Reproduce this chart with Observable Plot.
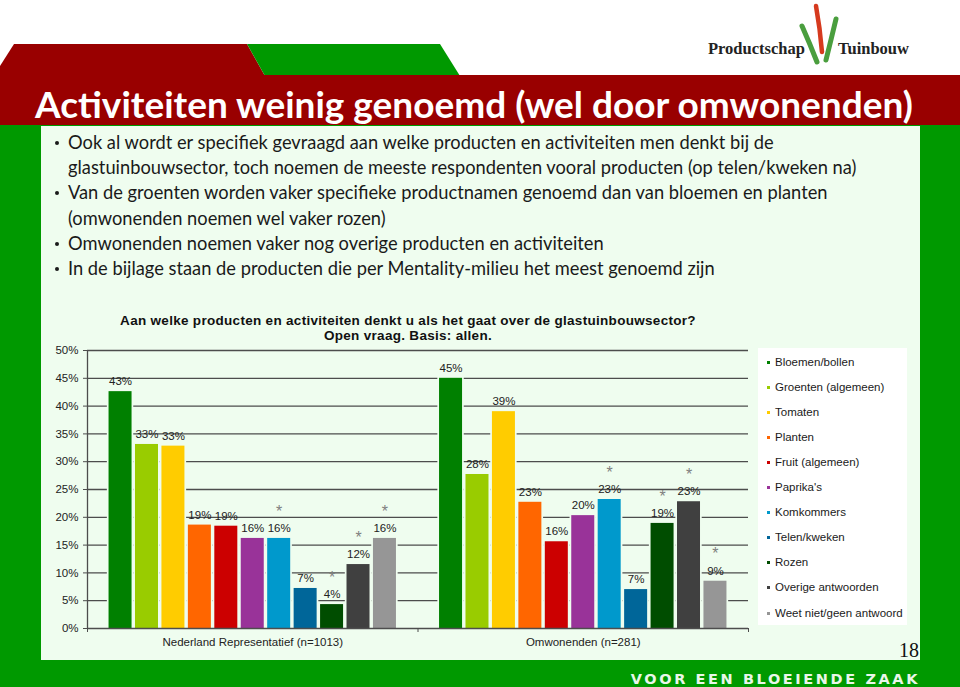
<!DOCTYPE html>
<html><head><meta charset="utf-8">
<script src="https://cdn.jsdelivr.net/npm/d3@7"></script>
<script src="https://cdn.jsdelivr.net/npm/@observablehq/plot@0.6"></script>
<style>
html,body{margin:0;padding:0;}
body{width:960px;height:687px;overflow:hidden;background:#fff;position:relative;font-family:"Liberation Sans",Arial,sans-serif;}
.abs{position:absolute;}
#bullets{left:52px;top:130px;width:815px;font-family:Lato,"Open Sans",sans-serif;font-size:18.3px;line-height:25.2px;color:#1a1a1a;}
#bullets div{position:relative;padding-left:16px;}
#bullets div:before{content:"";position:absolute;left:3px;top:11px;width:4px;height:4px;border-radius:2px;background:#1a1a1a;}
#ctitle{left:60px;top:314px;width:696px;text-align:center;font-weight:bold;font-size:13.5px;letter-spacing:0.3px;line-height:14.5px;color:#111;}
#legend{left:758px;top:348px;width:149px;height:277px;background:#fff;}
.li{position:absolute;left:17px;font-size:11.5px;color:#1a1a1a;white-space:nowrap;line-height:13px;}
.sw{position:absolute;left:9px;width:3px;height:3px;}
#title{left:35px;top:82px;color:#fff;font-family:Lato,"Open Sans",sans-serif;font-weight:bold;font-size:37px;white-space:nowrap;line-height:44px;}
#slogan{right:40px;top:671px;color:#e9f7e9;font-family:"DejaVu Sans",sans-serif;font-weight:bold;font-size:14.5px;letter-spacing:2.6px;line-height:16px;}
#pnum{left:899px;top:639px;font-family:"Liberation Serif",serif;font-size:20px;color:#111;line-height:22px;}
</style></head><body>
<svg class="abs" style="left:0;top:0" width="960" height="687">
  <rect x="0" y="0" width="960" height="687" fill="#ffffff"/>
  <polygon points="14,44 247,44 265,76 0,76 0,66" fill="#990000"/>
  <polygon points="247,44 440,44 460,76 265,76" fill="#009900"/>
  <rect x="0" y="75" width="960" height="51" fill="#990000"/>
  <rect x="0" y="125" width="960" height="562" fill="#009900"/>
  <rect x="41" y="126" width="879" height="534" fill="#effdef"/>
  <text x="708" y="54" font-family="Liberation Serif, serif" font-weight="bold" font-size="16.5" fill="#222">Productschap</text>
  <text x="838" y="54" font-family="Liberation Serif, serif" font-weight="bold" font-size="16.5" fill="#222">Tuinbouw</text>
  <path d="M802,26 Q810,44 817,62" stroke="#4a9e3e" stroke-width="5" fill="none" stroke-linecap="round"/>
  <path d="M816,6 Q820,28 822,52" stroke="#d63a1e" stroke-width="4.5" fill="none" stroke-linecap="round"/>
  <path d="M836,19 Q831,40 826,60" stroke="#4a9e3e" stroke-width="5" fill="none" stroke-linecap="round"/>
</svg>
<div id="title" class="abs">Activiteiten weinig genoemd (wel door omwonenden)</div>
<div id="bullets" class="abs">
  <div>Ook al wordt er specifiek gevraagd aan welke producten en activiteiten men denkt bij de glastuinbouwsector, toch noemen de meeste respondenten vooral producten (op telen/kweken na)</div>
  <div>Van de groenten worden vaker specifieke productnamen genoemd dan van bloemen en planten (omwonenden noemen wel vaker rozen)</div>
  <div>Omwonenden noemen vaker nog overige producten en activiteiten</div>
  <div>In de bijlage staan de producten die per Mentality-milieu het meest genoemd zijn</div>
</div>
<div id="ctitle" class="abs">Aan welke producten en activiteiten denkt u als het gaat over de glastuinbouwsector?<br>Open vraag. Basis: allen.</div>
<div id="chart" class="abs" style="left:40px;top:340px;"></div>
<div id="legend" class="abs"></div>
<div id="pnum" class="abs">18</div>
<div id="slogan" class="abs">VOOR EEN BLOEIENDE ZAAK</div>
<script>
const groups = ["Nederland Representatief (n=1013)", "Omwonenden (n=281)"];
const categories = ["Bloemen/bollen", "Groenten (algemeen)", "Tomaten", "Planten", "Fruit (algemeen)", "Paprika's", "Komkommers", "Telen/kweken", "Rozen", "Overige antwoorden", "Weet niet/geen antwoord"];
const colors = ["#008000", "#99cc00", "#ffcc00", "#ff6600", "#cc0000", "#993399", "#0099cc", "#006699", "#004d00", "#404040", "#969696"];
const valuesNL = [42.6, 33.1, 32.8, 18.6, 18.4, 16.2, 16.2, 7.2, 4.3, 11.5, 16.2];
const valuesOmw = [45.0, 27.7, 39.0, 22.7, 15.6, 20.3, 23.2, 7.0, 18.9, 22.8, 8.5];
const labelsNL = ["43%", "33%", "33%", "19%", "19%", "16%", "16%", "7%", "4%", "12%", "16%"];
const labelsOmw = ["45%", "28%", "39%", "23%", "16%", "20%", "23%", "7%", "19%", "23%", "9%"];
const starred = ["Komkommers", "Rozen", "Overige antwoorden", "Weet niet/geen antwoord"];
const yTicks = [0, 5, 10, 15, 20, 25, 30, 35, 40, 45, 50];

const bg = "#effdef";
const inner = d3.scaleBand().domain(categories).range([0, 1]).paddingInner(0.13).paddingOuter(0.815);
const series = [valuesNL, valuesOmw];
const labelSets = [labelsNL, labelsOmw];
const table = [];
groups.forEach((g, gi) => {
  categories.forEach((c, ci) => {
    const x1 = gi + inner(c);
    const x2 = x1 + inner.bandwidth();
    table.push({group: g, category: c, value: series[gi][ci], label: labelSets[gi][ci], x1, x2, xm: (x1 + x2) / 2, star: starred.includes(c)});
  });
});
const axisColor = "#4d4d4d";
const plot = Plot.plot({
  width: 720, height: 320,
  marginLeft: 47, marginRight: 12, marginTop: 10, marginBottom: 32,
  x: {domain: [0, groups.length]},
  y: {domain: [0, 50]},
  color: {domain: categories, range: colors},
  style: {fontFamily: "Liberation Sans, Arial, sans-serif", fontSize: "11.5px", color: "#222", background: "transparent", overflow: "visible"},
  marks: [
    Plot.ruleY(yTicks.filter(d => d > 0), {stroke: axisColor, strokeWidth: 1.3}),
    Plot.rect(table, {x1: "x1", x2: "x2", y1: () => 0, y2: "value", fill: "category", stroke: bg, strokeWidth: 3.4, paintOrder: "stroke"}),
    Plot.ruleX([0], {stroke: axisColor, strokeWidth: 1.3}),
    Plot.ruleY([0], {stroke: axisColor, strokeWidth: 1.6}),
    Plot.axisY({ticks: yTicks, tickFormat: d => d + "%", tickSize: 4, tickPadding: 5, label: null, stroke: axisColor, fill: "#222", fontSize: 11.5}),
    Plot.axisX({ticks: d3.range(groups.length + 1), tickSize: 4, tickFormat: () => "", label: null, stroke: axisColor}),
    Plot.text(table, {x: "xm", y: "value", text: "label", dy: -10, fill: "#222", fontSize: 11.5}),
    Plot.text(table.filter(d => d.star), {x: "xm", y: "value", text: () => "*", dy: -27, fontSize: 16, fill: "#808080"}),
    Plot.text(groups, {x: (d, i) => i + 0.5, y: () => 0, text: d => d, dy: 14, fill: "#222", fontSize: 11.5})
  ]
});
document.getElementById("chart").appendChild(plot);

const legend = document.getElementById("legend");
categories.forEach((c, i) => {
  const top = 14 + i * 25.1;
  const sw = document.createElement("div");
  sw.className = "sw";
  sw.style.top = (top - 1.5) + "px";
  sw.style.background = colors[i];
  legend.appendChild(sw);
  const t = document.createElement("div");
  t.className = "li";
  t.style.top = (top - 6.5) + "px";
  t.textContent = c;
  legend.appendChild(t);
});
</script>
</body></html>
